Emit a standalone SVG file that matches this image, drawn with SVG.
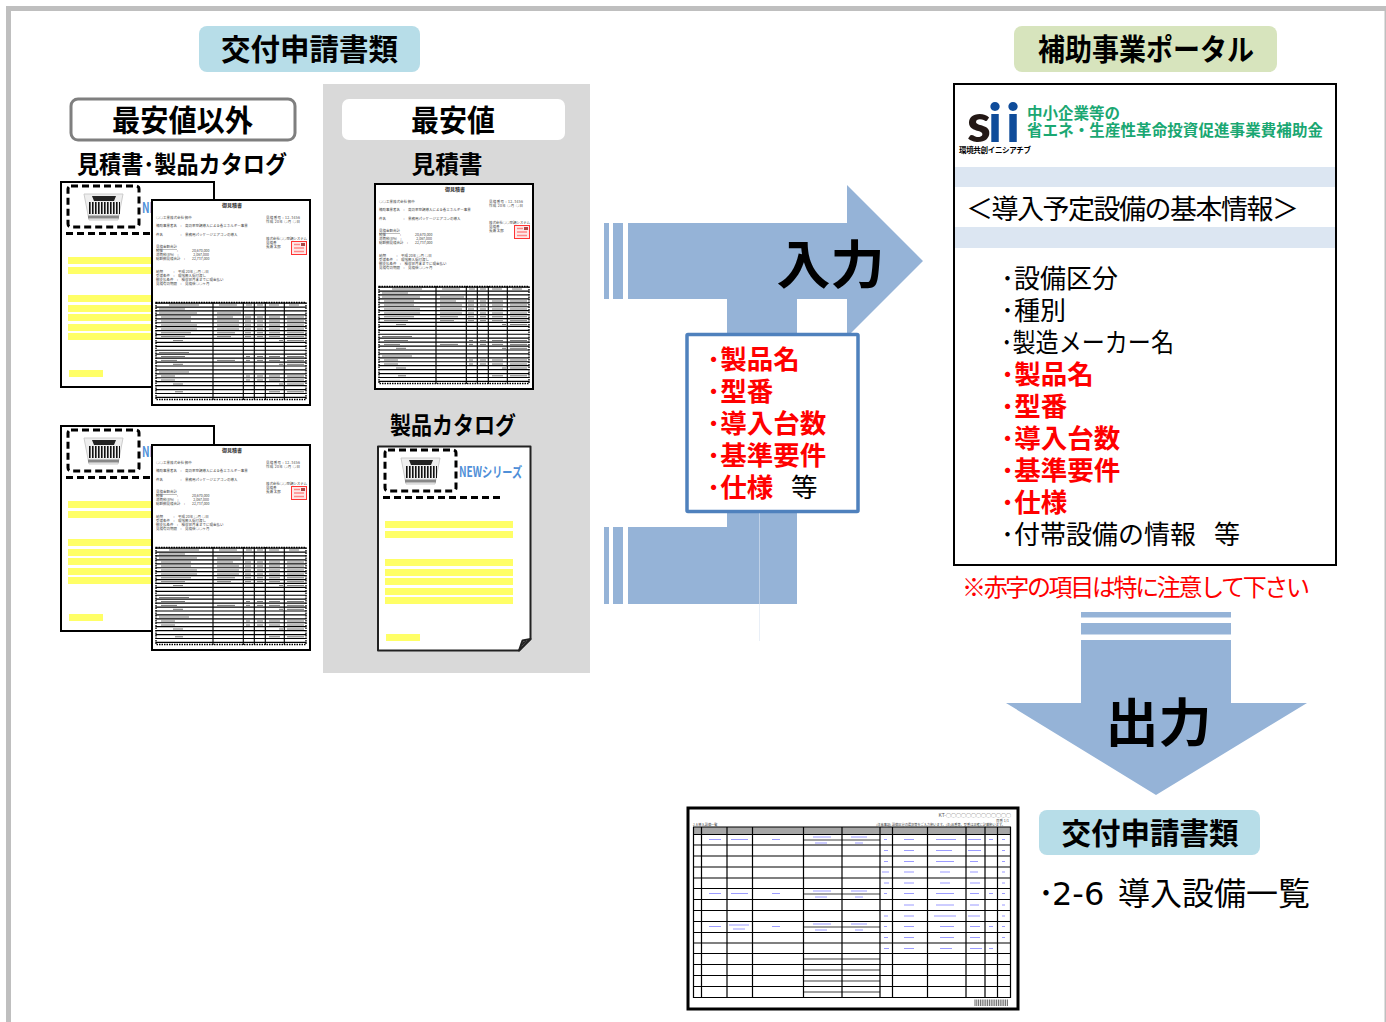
<svg xmlns="http://www.w3.org/2000/svg" xmlns:xlink="http://www.w3.org/1999/xlink" width="1386" height="1022" viewBox="0 0 1386 1022">
<style>
text{font-family:"Noto Sans CJK JP","Noto Sans",sans-serif;fill:#000}
.h{font-size:29.500px;font-weight:700;text-anchor:middle}
.sub{font-size:24px;font-weight:700;text-anchor:middle}
.li{font-size:26px}
.red{fill:#f00;font-weight:700;font-size:26.500px}
.lr{font-size:26.500px}
.t{font-size:3.500px;fill:#444}
.arrow{fill:#95b3d7}
.y{fill:#ffff66}
.dash{fill:none;stroke:#000;stroke-width:3;stroke-dasharray:7 4}
.g{fill:none;stroke:#777;stroke-width:1}
.bl{fill:none;stroke:#4a4aff;stroke-width:1.200;opacity:.55}
</style>
<defs>
<g id="catalog-content">
<rect class="dash" x="8" y="5" width="71" height="41" rx="3"/>
<path class="dash" d="M6 52.500H127"/>
<g>
<path d="M24 13H63L58 39H29Z" fill="#eee" stroke="#ccc" stroke-width="1"/>
<path d="M32 15H56L54 20H34Z" fill="#222"/>
<path d="M29 27L60 27" stroke="#111" stroke-width="12" stroke-dasharray="1.600 1.400"/>
<path d="M28 36H59" stroke="#888" stroke-width="3"/>
</g>
<text x="82" y="32" font-size="14" font-weight="700" style="fill:#4f8fd8" textLength="63" lengthAdjust="spacingAndGlyphs">NEWシリーズ</text>
<rect class="y" x="8" y="76" width="128" height="7"/>
<rect class="y" x="8" y="86" width="128" height="7"/>
<rect class="y" x="8" y="114" width="128" height="7"/>
<rect class="y" x="8" y="124" width="128" height="7"/>
<rect class="y" x="8" y="133" width="128" height="7"/>
<rect class="y" x="8" y="143" width="128" height="7"/>
<rect class="y" x="8" y="152" width="128" height="7"/>
<rect class="y" x="9" y="189" width="34" height="7"/>
</g>
<g id="estimate">
<rect x="1" y="1" width="158" height="205" fill="#fff" stroke="#000" stroke-width="2"/>
<text x="81" y="8" font-size="5" font-weight="700" text-anchor="middle" style="fill:#333">御見積書</text>
<text class="t" x="5" y="20">○○工業株式会社 御中</text>
<text class="t" x="5" y="28">補助事業者名　:　高効率空調導入による省エネルギー事業</text>
<text class="t" x="5" y="36.500">件名　　　　　:　業務用パッケージエアコンの導入</text>
<text class="t" x="5" y="49" text-decoration="underline">見積金額合計</text>
<text class="t" x="5" y="53">税抜　　　　:　　　　20,670,000</text>
<text class="t" x="5" y="57">消費税(8%)　:　　　　 2,067,000</text>
<text class="t" x="5" y="61">総額御見積合計　:　　22,737,000</text>
<text class="t" x="5" y="74">納期　　　:　平成 20年 ○月 ○日</text>
<text class="t" x="5" y="78">受渡条件　:　現地搬入据付渡し</text>
<text class="t" x="5" y="82">御支払条件　:　検収翌月末までに現金払い</text>
<text class="t" x="5" y="86">見積有効期限　:　見積後○○ヶ月</text>
<text class="t" x="115" y="20" textLength="34">見積番号 : 12-3456</text>
<text class="t" x="115" y="24" textLength="34">作成 20年 ○月 ○日</text>
<text class="t" x="115" y="40.500" textLength="41">株式会社○○空調システム</text>
<text class="t" x="115" y="44.500">見積書</text>
<text class="t" x="115" y="48.500">長瀬 太郎</text>
<rect x="140.500" y="42.500" width="15" height="13" fill="#fde8e8" stroke="#f33" stroke-width="1"/>
<path d="M143 45.500h6M143 49h10M143 52.500h10" stroke="#f88" stroke-width="1.500"/>
<path d="M150 44h4v3h-4z" fill="#a44"/>
<path d="M80 103.500V201" stroke="#000" stroke-width="151" stroke-dasharray="1.200 2.730"/>
<path d="M5 103.500H155V200.500H5Z" fill="none" stroke="#000" stroke-width="1.300" stroke-dasharray="1.500 1"/>
<path d="M62 103V201M92.300 103V201M103.300 103V201M114.300 103V201M133.300 103V201" stroke="#000" stroke-width="1.100"/>
<path class="g" d="M18 106h30M68 106h18M95 106h6M106 106h6M118 106h10M138 106h10M8 110h26M8 114h38M66 114h24M10 118h30M66 118h16M94 118h6M106 118h6M118 118h11M136 118h17M10 122h30M66 122h22M94 122h6M106 122h6M118 122h11M136 122h17M10 126h36M66 126h22M94 126h6M106 126h6M118 126h11M136 126h17M10 130h36M66 130h22M94 130h6M106 130h6M118 130h11M136 130h17M10 133.800h30M66 133.800h18M94 133.800h6M106 133.800h6M118 133.800h11M136 133.800h17M10 137.700h24M66 137.700h14M94 137.700h6M106 137.700h6M118 137.700h11M136 137.700h17M22 141.600h10M128 141.600h4M136 141.600h17M8 153.500h30M10 157.500h24M95 157.500h4M106 157.500h6M118 157.500h11M136 157.500h17M10 161.400h16M66 161.400h18M95 161.400h4M106 161.400h6M118 161.400h11M136 161.400h17M22 165.300h10M128 165.300h4M136 165.300h17M8 173h30M10 177h14M95 177h4M106 177h6M118 177h11M136 177h17M10 181h14M95 181h4M106 181h6M118 181h11M136 181h17M22 185h10M128 185h4M136 185h17M24 192.800h8M118 192.800h11M136 192.800h17"/>
</g>
</defs>

<path d="M8.500 1022V8.500H1386" fill="none" stroke="#bfbfbf" stroke-width="5"/>
<rect x="1384.500" y="11" width="1.500" height="1011" fill="#bfbfbf"/>

<g id="connectors">
<path class="arrow" d="M628 223H847V185L923 261L847 337V299H797V333H727V299H628Z"/>
<path class="arrow" d="M604 223h5v76h-5zM613 223h10v76h-10z"/>
<path class="arrow" d="M628 527H727V512H797V604H628Z"/>
<path class="arrow" d="M604 527h5v77h-5zM613 527h10v77h-10z"/>
<path d="M759.500 512V641" stroke="#dce6f2" stroke-width="1" opacity=".6"/>
<path class="arrow" d="M1081 612h150v5.500h-150zM1081 623h150v11.500h-150z"/>
<path class="arrow" d="M1081 640H1231V703H1307L1156 795L1006 703H1081Z"/>
</g>
<text x="830.500" y="284" font-size="52" font-weight="700" text-anchor="middle" textLength="108" lengthAdjust="spacingAndGlyphs">入力</text>
<text x="1158.500" y="742" font-size="52" font-weight="700" text-anchor="middle" textLength="106" lengthAdjust="spacingAndGlyphs">出力</text>

<g id="heading-application">
<rect x="199" y="26" width="221" height="46" rx="8" fill="#b7dde8"/>
<text class="h" x="309.500" y="60" textLength="177" lengthAdjust="spacingAndGlyphs">交付申請書類</text>
</g>
<g id="heading-portal">
<rect x="1014" y="26" width="263" height="46" rx="8" fill="#d7e4bd"/>
<text class="h" x="1146" y="60" textLength="216" lengthAdjust="spacingAndGlyphs">補助事業ポータル</text>
</g>

<g id="panel-cheapest">
<rect x="323" y="84" width="267" height="589" fill="#d9d9d9"/>
<rect x="342" y="99" width="223" height="41" rx="7" fill="#fff"/>
<text class="h" x="453" y="131" textLength="84" lengthAdjust="spacingAndGlyphs">最安値</text>
<text class="sub" x="447" y="173" textLength="71" lengthAdjust="spacingAndGlyphs">見積書</text>
<text class="sub" x="453" y="434" textLength="126" lengthAdjust="spacingAndGlyphs">製品カタログ</text>
</g>
<g id="label-other">
<rect x="71" y="99" width="224" height="41" rx="7" fill="#fff" stroke="#7f7f7f" stroke-width="3"/>
<text class="h" x="182.500" y="131" textLength="141" lengthAdjust="spacingAndGlyphs">最安値以外</text>
<text class="sub" x="182" y="173" textLength="210" lengthAdjust="spacingAndGlyphs">見積書･製品カタログ</text>
</g>

<g id="doc-other-1">
<rect x="61" y="182" width="153" height="205" fill="#fff" stroke="#000" stroke-width="2"/>
<use xlink:href="#catalog-content" x="60" y="181"/>
<use xlink:href="#estimate" x="151" y="199"/>
</g>
<g id="doc-other-2">
<rect x="61" y="426" width="153" height="205" fill="#fff" stroke="#000" stroke-width="2"/>
<use xlink:href="#catalog-content" x="60" y="425"/>
<use xlink:href="#estimate" x="151" y="444"/>
</g>
<g id="doc-cheapest-estimate">
<use xlink:href="#estimate" x="374" y="183"/>
</g>
<g id="doc-cheapest-catalog">
<path d="M378 446.500H530.500V639L519 650.500H378Z" fill="#fff" stroke="#222" stroke-width="2" stroke-linejoin="round"/>
<use xlink:href="#catalog-content" x="377" y="445"/>
<path d="M519 650.500L522.500 640.500L530.500 639Z" fill="#fff" stroke="#222" stroke-width="2" stroke-linejoin="round"/>
<path d="M520 648L523 641.500L528 640.500Z" fill="#222"/>
</g>

<g id="input-box">
<rect x="687" y="334.500" width="171" height="177" fill="#fff" stroke="#4f81bd" stroke-width="3.500" rx="1"/>
<text class="lr red" x="707" y="369">･製品名</text>
<text class="lr red" x="707" y="401">･型番</text>
<text class="lr red" x="707" y="433">･導入台数</text>
<text class="lr red" x="707" y="465">･基準要件</text>
<text class="lr" x="707" y="497"><tspan class="red">･仕様</tspan><tspan x="791">等</tspan></text>
</g>

<g id="portal">
<rect x="954" y="84" width="382" height="481" fill="#fff" stroke="#000" stroke-width="2"/>
<rect x="955" y="167" width="380" height="20" fill="#dce6f2"/>
<rect x="955" y="227" width="380" height="21" fill="#dce6f2"/>
<text x="967 988 1006" y="141.500" font-size="54" font-weight="900" style="font-family:Lato,sans-serif;fill:#231815">s<tspan style="fill:#0f4c9a">ii</tspan></text>
<text x="1027" y="118.500" font-size="15.500" font-weight="700" style="fill:#1aa772">中小企業等の</text>
<text x="1027" y="136" font-size="15.500" font-weight="700" style="fill:#1aa772" textLength="296">省エネ・生産性革命投資促進事業費補助金</text>
<text x="959" y="152.500" font-size="7.500" font-weight="700" textLength="72">環境共創イニシアチブ</text>
<text x="966" y="218.500" font-size="27" textLength="333">＜導入予定設備の基本情報＞</text>
<text class="li" x="1001" y="287.500">･設備区分</text>
<text class="li" x="1001" y="319.500">･種別</text>
<text class="li" x="1001" y="351.500" textLength="173" lengthAdjust="spacingAndGlyphs">･製造メーカー名</text>
<text class="li red" x="1001" y="383.500">･製品名</text>
<text class="li red" x="1001" y="415.500">･型番</text>
<text class="li red" x="1001" y="447.500">･導入台数</text>
<text class="li red" x="1001" y="479.500">･基準要件</text>
<text class="li red" x="1001" y="511.500">･仕様</text>
<text class="li" x="1001" y="543.500">･付帯設備の情報<tspan x="1214">等</tspan></text>
</g>
<text x="962" y="595.500" font-size="24" style="fill:#f00" textLength="348">※赤字の項目は特に注意して下さい</text>

<g id="doc-output">
<rect x="688" y="808" width="330" height="201" fill="#fff" stroke="#000" stroke-width="3"/>
<text x="1011" y="817" font-size="5" text-anchor="end" style="fill:#555">KT-○○○○○○○○○○○○○</text>
<text x="1009" y="821.500" font-size="3.500" text-anchor="end" style="fill:#555">頁番 1/1</text>
<text x="693" y="825.500" font-size="3.200" style="fill:#444">2-6 導入設備一覧</text>
<text x="1005" y="825.500" font-size="3.200" text-anchor="end" style="fill:#444">(注意事項) 設備区分の選択等をご入力願います。(注)品番等、型番は正確に記載願います。</text>
<rect x="693.500" y="827" width="317" height="7.500" fill="#a6a6a6"/>
<path d="M803 840H880M803 894H880M803 927H880M803 959H880M803 970H880M803 981H880M803 992H880" stroke="#808080" stroke-width="1.500"/>
<path d="M693 827H1011M693 834.500H1011M693 845H1011M693 856H1011M693 867H1011M693 878H1011M693 888.500H1011M693 899.500H1011M693 910.500H1011M693 921.500H1011M693 932.500H1011M693 943H1011M693 953.500H1011M693 964.500H1011M693 975.500H1011M693 986.500H1011M693 997.500H1011" stroke="#000" stroke-width="1.200"/>
<path d="M693.500 827V998M701.500 827V998M727 827V998M752.500 827V998M803.500 827V998M842 827V998M880 827V998M892.500 827V998M927.500 827V998M966 827V998M985 827V998M997.500 827V998M1010.500 827V998" stroke="#000" stroke-width="1.200"/>
<path class="bl" d="M709 839.500h12M731 839.500h17M772 839.500h8M813 837h18M815 843h12M851 837h16M855 843h8M884 839.500h3M904 839.500h10M936 839.500h20M968 839.500h13M989 839.500h4M1002 839.500h3M884 850.500h4M904 850.500h10M936 850.500h16M968 850.500h13M1002 850.500h3M884 861.500h4M904 861.500h10M936 861.500h18M970 861.500h8M1002 861.500h3M882 872h7M904 872h10M940 872h10M970 872h8M1002 872h3M884 883h5M904 883h10M940 883h10M970 883h10M1002 883h3M709 893.500h12M731 893.500h17M772 893.500h8M813 891h18M815 897h12M851 891h16M855 897h8M884 893.500h3M904 893.500h10M936 893.500h18M970 893.500h9M989 893.500h4M1002 893.500h3M904 905h10M936 905h18M970 905h9M1002 905h3M884 916h4M904 916h10M934 916h22M968 916h12M1002 916h3M709 926.500h12M729 925h20M733 929h12M772 926.500h8M813 924h18M815 930h12M851 924h16M855 930h8M884 926.500h3M904 926.500h10M940 926.500h14M970 926.500h10M989 926.500h4M1002 926.500h3M884 937.500h4M904 937.500h10M940 937.500h14M970 937.500h10M1002 937.500h3M884 948.500h5M904 948.500h10M940 948.500h12M970 948.500h12M989 948.500h4"/>
<path d="M974.500 1002.800H1008.500" stroke="#666" stroke-width="6.500" stroke-dasharray="1 .8"/>
</g>
<g id="heading-application-2">
<rect x="1039" y="810" width="221" height="45" rx="8" fill="#b7dde8"/>
<text class="h" x="1150" y="843.500" textLength="177" lengthAdjust="spacingAndGlyphs">交付申請書類</text>
</g>
<text x="1038" y="905" font-size="32">･<tspan x="1052" style="font-family:'DejaVu Sans',sans-serif">2-6</tspan><tspan x="1118">導入設備一覧</tspan></text>
</svg>
